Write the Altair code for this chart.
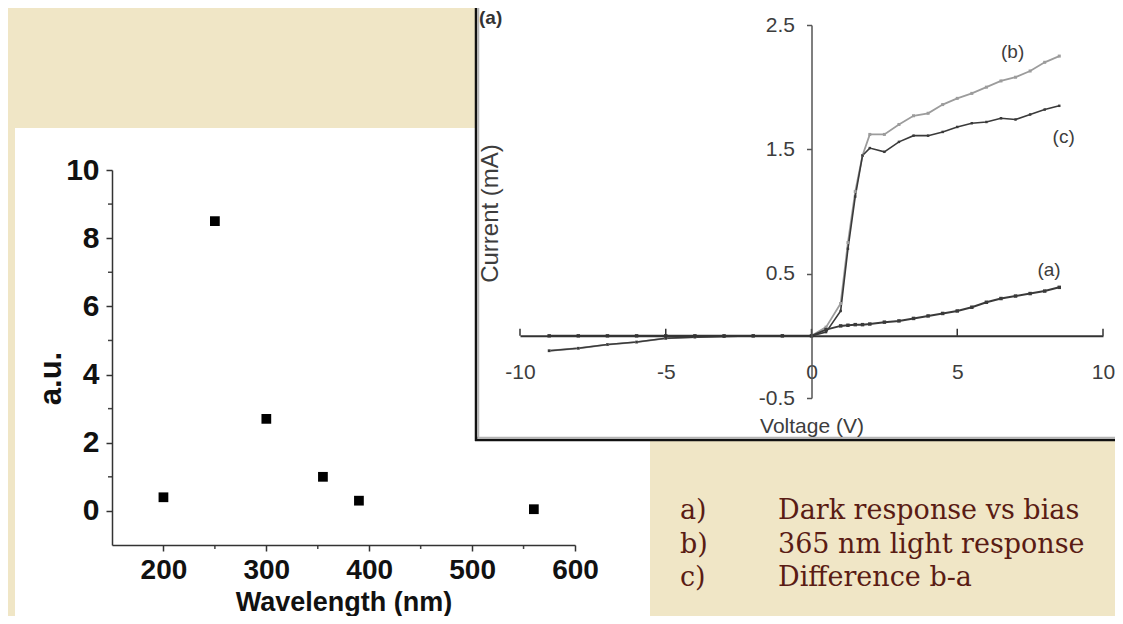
import altair as alt
import pandas as pd

# ---------------- data: left panel (spectral response) ----------------
wavelengths = [200, 250, 300, 355, 390, 560]
response_au = [0.4, 8.5, 2.7, 1.0, 0.3, 0.05]
left_x_ticks = [200, 300, 400, 500, 600]
left_x_minor = [250, 350, 450, 550]
left_y_ticks = [0, 2, 4, 6, 8, 10]
left_y_minor = [1, 3, 5, 7, 9]

# ---------------- data: right panel (I-V curves) ----------------
voltage = [-9, -8, -7, -6, -5, -4, -3, -2, -1, 0, 0.5, 1.0, 1.25, 1.5, 1.75,
           2.0, 2.5, 3.0, 3.5, 4.0, 4.5, 5.0, 5.5, 6.0, 6.5, 7.0, 7.5, 8.0, 8.5]
dark_a = [0, 0, 0, 0, 0, 0, 0, 0, 0, 0, 0.05, 0.08, 0.085, 0.09, 0.09,
          0.095, 0.11, 0.12, 0.14, 0.16, 0.18, 0.20, 0.23, 0.27, 0.30, 0.32, 0.34, 0.36, 0.39]
light_b = [-0.12, -0.10, -0.07, -0.05, -0.02, -0.01, -0.005, 0, 0, 0, 0.07, 0.26, 0.75, 1.16, 1.45,
           1.62, 1.62, 1.70, 1.77, 1.79, 1.86, 1.91, 1.95, 2.00, 2.05, 2.08, 2.13, 2.20, 2.25]
diff_c = [-0.12, -0.10, -0.07, -0.05, -0.02, -0.01, -0.005, 0, 0, 0, 0.03, 0.20, 0.70, 1.12, 1.45,
          1.51, 1.48, 1.56, 1.61, 1.61, 1.64, 1.68, 1.71, 1.72, 1.75, 1.74, 1.78, 1.82, 1.85]
right_x_ticks = [-10, -5, 0, 5, 10]
right_y_ticks = [-0.5, 0.5, 1.5, 2.5]
curve_labels = ["(b)", "(c)", "(a)"]
curve_label_v = [6.9, 8.65, 8.15]
curve_label_i = [2.28, 1.60, 0.53]

# ---------------- data: caption text ----------------
legend_keys = ["a)", "b)", "c)"]
legend_texts = ["Dark response vs bias", "365 nm light response", "Difference b-a"]

# ---------------- layout (pixels inside the chart) ----------------
W, H = 1107, 608
L_X = [104, 567]        # range for wavelength 150..600
L_Y = [537, 162]        # range for a.u. -1..10
R_X = [512, 1095]       # range for voltage -10..10
R_Y = [390, 17]         # range for current -0.5..2.5
R_X0 = (R_X[0] + R_X[1]) / 2.0
R_Y0 = R_Y[0] + (R_Y[1] - R_Y[0]) * (0.5 / 3.0)

SANS = "Liberation Sans, Arial, sans-serif"
SERIF = "DejaVu Serif, serif"
BG = "#f0e6c6"
MINUS_FIX = "replace(datum.label, '\u2212', '-')"

one = pd.DataFrame({"k": [0]})

# ---------------- left panel ----------------
left_bg = alt.Chart(one).mark_rect(color="white").encode(
    x=alt.value(7), x2=alt.value(642), y=alt.value(120), y2=alt.value(H)
)

df_left = pd.DataFrame({"wl": wavelengths, "au": response_au})


def lx_scale():
    return alt.Scale(domain=[150, 600], range=L_X, nice=False, zero=False)


def ly_scale():
    return alt.Scale(domain=[-1, 10], range=L_Y, nice=False, zero=False)


left_points = alt.Chart(df_left).mark_point(
    shape="square", filled=True, size=95, color="black", opacity=1
).encode(
    x=alt.X("wl:Q", scale=lx_scale(), axis=alt.Axis(
        orient="bottom", offset=L_Y[0] - H, values=left_x_ticks, grid=False,
        tickSize=6, tickWidth=1.5, tickColor="#333", domainColor="#333", domainWidth=1.5,
        labelFont=SANS, labelFontSize=28, labelFontWeight="bold", labelColor="#111",
        labelPadding=5, labelFlush=False,
        title="Wavelength (nm)", titleFont=SANS, titleFontSize=27, titleFontWeight="bold",
        titleColor="#111", titleBaseline="alphabetic", titleY=65, zindex=1)),
    y=alt.Y("au:Q", scale=ly_scale(), axis=alt.Axis(
        orient="left", offset=-L_X[0], values=left_y_ticks, grid=False,
        tickSize=6, tickWidth=1.5, tickColor="#333", domainColor="#333", domainWidth=1.5,
        labelFont=SANS, labelFontSize=30, labelFontWeight="bold", labelColor="#111",
        labelPadding=7, labelFlush=False,
        title="a.u.", titleFont=SANS, titleFontSize=31, titleFontWeight="bold",
        titleColor="#111", titleBaseline="middle", titleAngle=270,
        titleX=-61, titleY=370, zindex=1)),
)

left_xminor = alt.Chart(pd.DataFrame({"wl": left_x_minor})).mark_rule(
    color="#444", strokeWidth=1.5).encode(
    x=alt.X("wl:Q", scale=lx_scale(), axis=None),
    y=alt.value(L_Y[0]), y2=alt.value(L_Y[0] + 4))
left_yminor = alt.Chart(pd.DataFrame({"au": left_y_minor})).mark_rule(
    color="#444", strokeWidth=1.5).encode(
    y=alt.Y("au:Q", scale=ly_scale(), axis=None),
    x=alt.value(L_X[0] - 4), x2=alt.value(L_X[0]))

# ---------------- right panel ----------------
right_bg = alt.Chart(one).mark_rect(color="white").encode(
    x=alt.value(467), x2=alt.value(W), y=alt.value(0), y2=alt.value(433))
right_shadow_l = alt.Chart(one).mark_rule(color="#b5b5b5", strokeWidth=1.5).encode(
    x=alt.value(470.5), y=alt.value(0), y2=alt.value(430))
right_shadow_b = alt.Chart(one).mark_rule(color="#b5b5b5", strokeWidth=1.5).encode(
    y=alt.value(429.5), x=alt.value(469), x2=alt.value(W))
right_border_l = alt.Chart(one).mark_rule(color="#111", strokeWidth=2.5).encode(
    x=alt.value(468), y=alt.value(0), y2=alt.value(433))
right_border_b = alt.Chart(one).mark_rule(color="#111", strokeWidth=2.5).encode(
    y=alt.value(432), x=alt.value(467), x2=alt.value(W))

rows = []
for name, vals in (("b", light_b), ("a", dark_a), ("c", diff_c)):
    for v, i in zip(voltage, vals):
        rows.append({"V": v, "I": i, "series": name})
df_iv = pd.DataFrame(rows)


def rx_scale():
    return alt.Scale(domain=[-10, 10], range=R_X, nice=False, zero=False)


def ry_scale():
    return alt.Scale(domain=[-0.5, 2.5], range=R_Y, nice=False, zero=False)


ser_dom = ["a", "b", "c"]


def col_scale():
    return alt.Scale(domain=ser_dom, range=["#3a3a3a", "#9c9c9c", "#3a3a3a"])


iv_lines = alt.Chart(df_iv).mark_line().encode(
    x=alt.X("V:Q", scale=rx_scale(), axis=alt.Axis(
        orient="bottom", offset=R_Y0 - H, values=right_x_ticks, grid=False,
        ticks=False, tickSize=0, domainColor="#333", domainWidth=2,
        labelFont=SANS, labelFontSize=21, labelColor="#3d3d3d", labelPadding=26,
        labelFlush=False, labelExpr=MINUS_FIX,
        title="Voltage (V)", titleFont=SANS, titleFontSize=21, titleFontWeight="normal",
        titleColor="#3d3d3d", titleBaseline="alphabetic", titleY=97, zindex=1)),
    y=alt.Y("I:Q", scale=ry_scale(), axis=alt.Axis(
        orient="left", offset=-R_X0, values=right_y_ticks, format=".1f", grid=False,
        tickSize=5, tickWidth=1.5, tickColor="#555", domainColor="#555", domainWidth=1.5,
        labelFont=SANS, labelFontSize=21, labelColor="#3d3d3d", labelPadding=12,
        labelFlush=False, labelExpr=MINUS_FIX,
        title="Current (mA)", titleFont=SANS, titleFontSize=24, titleFontWeight="normal",
        titleColor="#3d3d3d", titleBaseline="middle", titleAngle=270,
        titleX=-321, titleY=205, zindex=1)),
    color=alt.Color("series:N", scale=col_scale(), legend=None),
    strokeWidth=alt.StrokeWidth("series:N", scale=alt.Scale(domain=ser_dom, range=[2, 1.6, 2]),
                                legend=None),
    order=alt.Order("V:Q"),
    detail="series:N",
)
iv_points = alt.Chart(df_iv).mark_point(shape="square", filled=True, opacity=1).encode(
    x=alt.X("V:Q", scale=rx_scale(), axis=None),
    y=alt.Y("I:Q", scale=ry_scale(), axis=None),
    color=alt.Color("series:N", scale=col_scale(), legend=None),
    size=alt.Size("series:N", scale=alt.Scale(domain=ser_dom, range=[12, 6, 12]), legend=None),
)
r_ticks = alt.Chart(pd.DataFrame({"V": right_x_ticks})).mark_rule(
    color="#333", strokeWidth=1.5).encode(
    x=alt.X("V:Q", scale=rx_scale(), axis=None),
    y=alt.value(R_Y0), y2=alt.value(R_Y0 - 7))
df_cl = pd.DataFrame({"V": curve_label_v, "I": curve_label_i, "lab": curve_labels})
r_labels = alt.Chart(df_cl).mark_text(
    font=SANS, fontSize=19, color="#3d3d3d", align="center", baseline="middle").encode(
    x=alt.X("V:Q", scale=rx_scale(), axis=None),
    y=alt.Y("I:Q", scale=ry_scale(), axis=None),
    text="lab:N")
panel_tag = alt.Chart(one).mark_text(
    text="(a)", font=SANS, fontSize=19, fontWeight="bold", color="#333",
    align="left", baseline="top").encode(x=alt.value(471), y=alt.value(1))

# ---------------- caption ----------------
df_cap = pd.DataFrame({"row": [0, 1, 2], "key": legend_keys, "txt": legend_texts})


def cap_y():
    return alt.Y("row:Q", scale=alt.Scale(domain=[0, 2], range=[511, 578], nice=False, zero=False),
                 axis=None)


cap_keys = alt.Chart(df_cap).mark_text(
    font=SERIF, fontSize=27, color="#5a1c14", align="left", baseline="alphabetic").encode(
    x=alt.value(672), y=cap_y(), text="key:N")
cap_txt = alt.Chart(df_cap).mark_text(
    font=SERIF, fontSize=27, color="#5a1c14", align="left", baseline="alphabetic").encode(
    x=alt.value(770), y=cap_y(), text="txt:N")

chart = alt.layer(
    left_bg, left_xminor, left_yminor, left_points,
    right_bg, right_shadow_l, right_shadow_b, right_border_l, right_border_b,
    r_ticks, iv_lines, iv_points, r_labels, panel_tag, cap_keys, cap_txt,
).resolve_scale(
    x="independent", y="independent", color="independent", size="independent",
    strokeWidth="independent"
).resolve_axis(
    x="independent", y="independent"
).properties(
    width=W, height=H, autosize=alt.AutoSizeParams(type="none"), padding=0,
    background=BG
).configure_view(strokeWidth=0)

chart.save("out.html", embed_options={"renderer": "svg", "actions": False})
